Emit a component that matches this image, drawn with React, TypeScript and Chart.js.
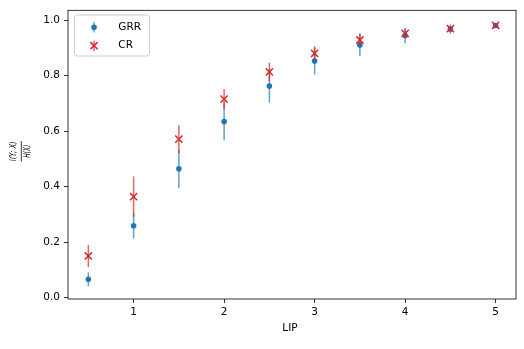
import React, { useEffect, useRef } from "react";
import { Chart, registerables } from "chart.js";

Chart.register(...registerables);

// ---- data ----
const lip = [0.5, 1, 1.5, 2, 2.5, 3, 3.5, 4, 4.5, 5];
const grr = [0.066, 0.259, 0.464, 0.634, 0.762, 0.852, 0.91, 0.944, 0.967, 0.98];
const grrErr = [0.025, 0.046, 0.07, 0.067, 0.06, 0.048, 0.04, 0.028, 0.017, 0.008];
const cr = [0.15, 0.364, 0.571, 0.715, 0.813, 0.88, 0.928, 0.952, 0.969, 0.981];
const crErr = [0.04, 0.073, 0.05, 0.036, 0.033, 0.026, 0.024, 0.015, 0.01, 0.007];
const xTicks = [1, 2, 3, 4, 5];
const xTickLabels = ["1", "2", "3", "4", "5"];
const yTicks = [0, 0.2, 0.4, 0.6, 0.8, 1.0];
const yTickLabels = ["0.0", "0.2", "0.4", "0.6", "0.8", "1.0"];
const seriesNames = ["GRR", "CR"];
const xTitle = "LIP";
const yNumerator = "I(Y; X)";
const yDenominator = "H(X)";

const BLUE = "#1f77b4";
const RED = "#d62728";
const BLUE_ERR = "rgba(31,119,180,0.7)";
const RED_ERR = "rgba(214,39,40,0.7)";
const FONT = "DejaVu Sans";

const errorBarPlugin = {
  id: "errorBars",
  beforeDatasetDraw(chart: any, args: any) {
    const ds = chart.data.datasets[args.index];
    const errs: number[] = ds.errors;
    if (!errs) return;
    const xs = chart.scales.x;
    const ys = chart.scales.y;
    const ctx = chart.ctx;
    ctx.save();
    ctx.strokeStyle = ds.errColor;
    ctx.lineWidth = 1.5;
    ctx.lineCap = "butt";
    ds.data.forEach((p: any, i: number) => {
      const px = xs.getPixelForValue(p.x);
      const y1 = ys.getPixelForValue(p.y - errs[i]);
      const y2 = ys.getPixelForValue(p.y + errs[i]);
      ctx.beginPath();
      ctx.moveTo(px, y1);
      ctx.lineTo(px, y2);
      ctx.stroke();
    });
    ctx.restore();
  },
};

const decorPlugin = {
  id: "decor",
  afterDraw(chart: any) {
    const ctx = chart.ctx;
    const a = chart.chartArea;
    ctx.save();
    // frame
    ctx.strokeStyle = "#000";
    ctx.lineWidth = 0.8;
    ctx.strokeRect(a.left, a.top, a.right - a.left, a.bottom - a.top);

    // x title
    ctx.fillStyle = "#000";
    ctx.font = `10.5px '${FONT}'`;
    ctx.textAlign = "center";
    ctx.textBaseline = "middle";
    ctx.fillText(xTitle, (a.left + a.right) / 2 - 2, 328);

    // y title (fraction)
    ctx.save();
    ctx.translate(21.3, 151.3);
    ctx.rotate(-Math.PI / 2);
    ctx.font = `italic 8px '${FONT}'`;
    ctx.textAlign = "center";
    ctx.textBaseline = "middle";
    ctx.fillText(yNumerator, 0, -7.4, 20);
    ctx.fillText(yDenominator, 0, 6.2, 13);
    ctx.strokeStyle = "#000";
    ctx.lineWidth = 0.8;
    ctx.beginPath();
    ctx.moveTo(-10.3, 0);
    ctx.lineTo(10.3, 0);
    ctx.stroke();
    ctx.restore();

    // legend
    const lx = 74.5, ly = 15, lw = 75, lh = 41, r = 3;
    ctx.beginPath();
    ctx.moveTo(lx + r, ly);
    ctx.lineTo(lx + lw - r, ly);
    ctx.arcTo(lx + lw, ly, lx + lw, ly + r, r);
    ctx.lineTo(lx + lw, ly + lh - r);
    ctx.arcTo(lx + lw, ly + lh, lx + lw - r, ly + lh, r);
    ctx.lineTo(lx + r, ly + lh);
    ctx.arcTo(lx, ly + lh, lx, ly + lh - r, r);
    ctx.lineTo(lx, ly + r);
    ctx.arcTo(lx, ly, lx + r, ly, r);
    ctx.closePath();
    ctx.fillStyle = "rgba(255,255,255,0.8)";
    ctx.fill();
    ctx.strokeStyle = "#cccccc";
    ctx.lineWidth = 1;
    ctx.stroke();

    const mx = 94;
    const rows = [27.3, 45.7];
    // GRR icon
    ctx.strokeStyle = BLUE_ERR;
    ctx.lineWidth = 1.5;
    ctx.beginPath();
    ctx.moveTo(mx, rows[0] - 5.2);
    ctx.lineTo(mx, rows[0] + 5.2);
    ctx.stroke();
    ctx.fillStyle = BLUE;
    ctx.beginPath();
    ctx.arc(mx, rows[0], 2.8, 0, Math.PI * 2);
    ctx.fill();
    // CR icon
    ctx.strokeStyle = RED_ERR;
    ctx.beginPath();
    ctx.moveTo(mx, rows[1] - 5.2);
    ctx.lineTo(mx, rows[1] + 5.2);
    ctx.stroke();
    ctx.strokeStyle = RED;
    const d = 3.6;
    ctx.beginPath();
    ctx.moveTo(mx - d, rows[1] - d);
    ctx.lineTo(mx + d, rows[1] + d);
    ctx.moveTo(mx - d, rows[1] + d);
    ctx.lineTo(mx + d, rows[1] - d);
    ctx.stroke();

    ctx.fillStyle = "#000";
    ctx.font = `10.5px '${FONT}'`;
    ctx.textAlign = "left";
    ctx.textBaseline = "middle";
    ctx.fillText(seriesNames[0], 118.3, rows[0]);
    ctx.fillText(seriesNames[1], 118.3, rows[1]);
    ctx.restore();
  },
};

export default function App() {
  const ref = useRef<HTMLCanvasElement>(null);
  useEffect(() => {
    document.body.style.margin = "0";
    const canvas = ref.current!;
    const tickFont = { family: FONT, size: 10.5 };
    const chart = new Chart(canvas, {
      type: "scatter",
      data: {
        datasets: [
          {
            label: seriesNames[0],
            data: lip.map((x, i) => ({ x, y: grr[i] })),
            errors: grrErr,
            errColor: BLUE_ERR,
            order: 2,
            pointStyle: "circle",
            pointRadius: 2.8,
            pointBackgroundColor: BLUE,
            pointBorderWidth: 0,
            pointBorderColor: BLUE,
          } as any,
          {
            label: seriesNames[1],
            data: lip.map((x, i) => ({ x, y: cr[i] })),
            errors: crErr,
            errColor: RED_ERR,
            order: 1,
            pointStyle: "crossRot",
            pointRadius: 5.1,
            pointBorderColor: RED,
            pointBackgroundColor: RED,
            pointBorderWidth: 1.5,
          } as any,
        ],
      },
      options: {
        responsive: false,
        animation: false,
        devicePixelRatio: 1,
        events: [],
        layout: { padding: { top: 9, right: 8, left: 0, bottom: 0 } },
        plugins: {
          legend: { display: false },
          tooltip: { enabled: false },
          title: { display: false },
        },
        scales: {
          x: {
            type: "linear",
            min: 0.275,
            max: 5.225,
            afterBuildTicks: (s: any) => {
              s.ticks = xTicks.map((v) => ({ value: v }));
            },
            afterFit: (s: any) => {
              s.height = 50;
            },
            ticks: {
              font: tickFont,
              color: "#000",
              padding: 3,
              maxRotation: 0,
              autoSkip: false,
              callback: (_v: any, i: number) => xTickLabels[i],
            },
            grid: {
              drawOnChartArea: false,
              drawTicks: true,
              tickLength: 4,
              tickColor: "#000",
              tickWidth: 0.8,
            },
            border: { display: false },
          },
          y: {
            type: "linear",
            min: -0.005,
            max: 1.035,
            afterBuildTicks: (s: any) => {
              s.ticks = yTicks.map((v) => ({ value: v }));
            },
            afterFit: (s: any) => {
              s.width = 68;
            },
            ticks: {
              font: tickFont,
              color: "#000",
              padding: 4,
              autoSkip: false,
              callback: (_v: any, i: number) => yTickLabels[i],
            },
            grid: {
              drawOnChartArea: false,
              drawTicks: true,
              tickLength: 4,
              tickColor: "#000",
              tickWidth: 0.8,
            },
            border: { display: false },
          },
        },
      } as any,
      plugins: [errorBarPlugin, decorPlugin],
    });
    return () => chart.destroy();
  }, []);
  return (
    <div style={{ position: "absolute", left: 0, top: 0, width: 524, height: 349, background: "#fff" }}>
      <canvas ref={ref} width={524} height={349} style={{ width: 524, height: 349, display: "block" }} />
    </div>
  );
}
